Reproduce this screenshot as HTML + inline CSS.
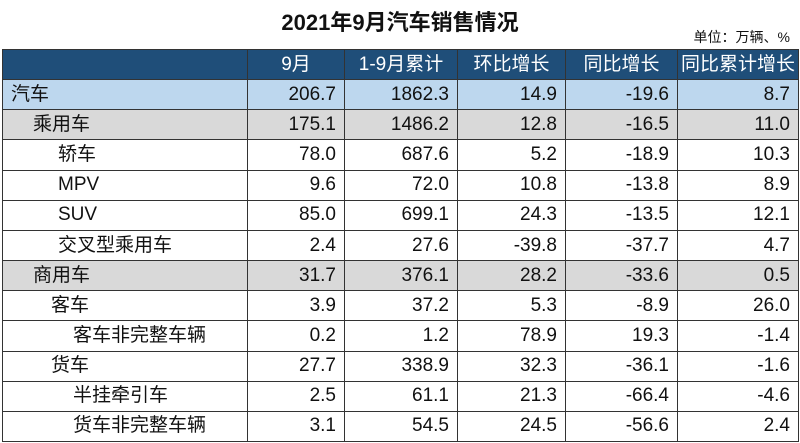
<!DOCTYPE html>
<html><head><meta charset="utf-8"><style>
body{margin:0;width:800px;height:443px;background:#fff;overflow:hidden;font-family:"Liberation Sans","Noto Sans CJK SC",sans-serif;position:relative}
#title{position:absolute;left:0;width:800px;top:5px;text-align:center;font-weight:bold;font-size:22px;color:#111}
#unit{position:absolute;right:10px;top:27px;font-size:14px;color:#111}
table{position:absolute;left:2px;top:49px;border-collapse:collapse;table-layout:fixed;width:796px}
tr{height:30.17px}
td,th{height:30.17px;padding:0 8px;font-size:19px;line-height:20px;color:#111;border:1px solid #333;white-space:nowrap;font-weight:normal;box-sizing:border-box;overflow:hidden}
th{background:#1f4e79;color:#fff;text-align:center;border-color:#333;padding:0}
td.n{text-align:right}
tr.car td{background:#bdd7ee}
tr.grey td{background:#d9d9d9}
</style></head><body>
<div id="title">2021年9月汽车销售情况</div>
<div id="unit">单位：万辆、%</div>
<table>
<colgroup><col style="width:245px"><col style="width:97px"><col style="width:113px"><col style="width:108px"><col style="width:112px"><col style="width:121px"></colgroup>
<thead><tr><th></th><th>9月</th><th>1-9月累计</th><th>环比增长</th><th>同比增长</th><th>同比累计增长</th></tr></thead>
<tbody id="tb"></tbody></table>
<script>
const names=["汽车","乘用车","轿车","MPV","SUV","交叉型乘用车","商用车","客车","客车非完整车辆","货车","半挂牵引车","货车非完整车辆"];
const indents=[0,22,47,47,47,47,22,40,62,40,62,62];
const sept=["206.7","175.1","78.0","9.6","85.0","2.4","31.7","3.9","0.2","27.7","2.5","3.1"];
const cum=["1862.3","1486.2","687.6","72.0","699.1","27.6","376.1","37.2","1.2","338.9","61.1","54.5"];
const mom=["14.9","12.8","5.2","10.8","24.3","-39.8","28.2","5.3","78.9","32.3","21.3","24.5"];
const yoy=["-19.6","-16.5","-18.9","-13.8","-13.5","-37.7","-33.6","-8.9","19.3","-36.1","-66.4","-56.6"];
const yoyCum=["8.7","11.0","10.3","8.9","12.1","4.7","0.5","26.0","-1.4","-1.6","-4.6","2.4"];
const tb=document.getElementById('tb');
names.forEach((n,i)=>{
 const tr=document.createElement('tr');
 
 
 if(i===0)tr.className='car';else if(i===1||i===6)tr.className='grey';
 const c=document.createElement('td');
 
 
 c.style.paddingLeft=(8+indents[i])+'px';c.textContent=n;tr.appendChild(c);
 [sept,cum,mom,yoy,yoyCum].forEach(a=>{const d=document.createElement('td');
 
 
 d.className='n';d.textContent=a[i];tr.appendChild(d);});
 tb.appendChild(tr);
});
</script>
</body></html>
